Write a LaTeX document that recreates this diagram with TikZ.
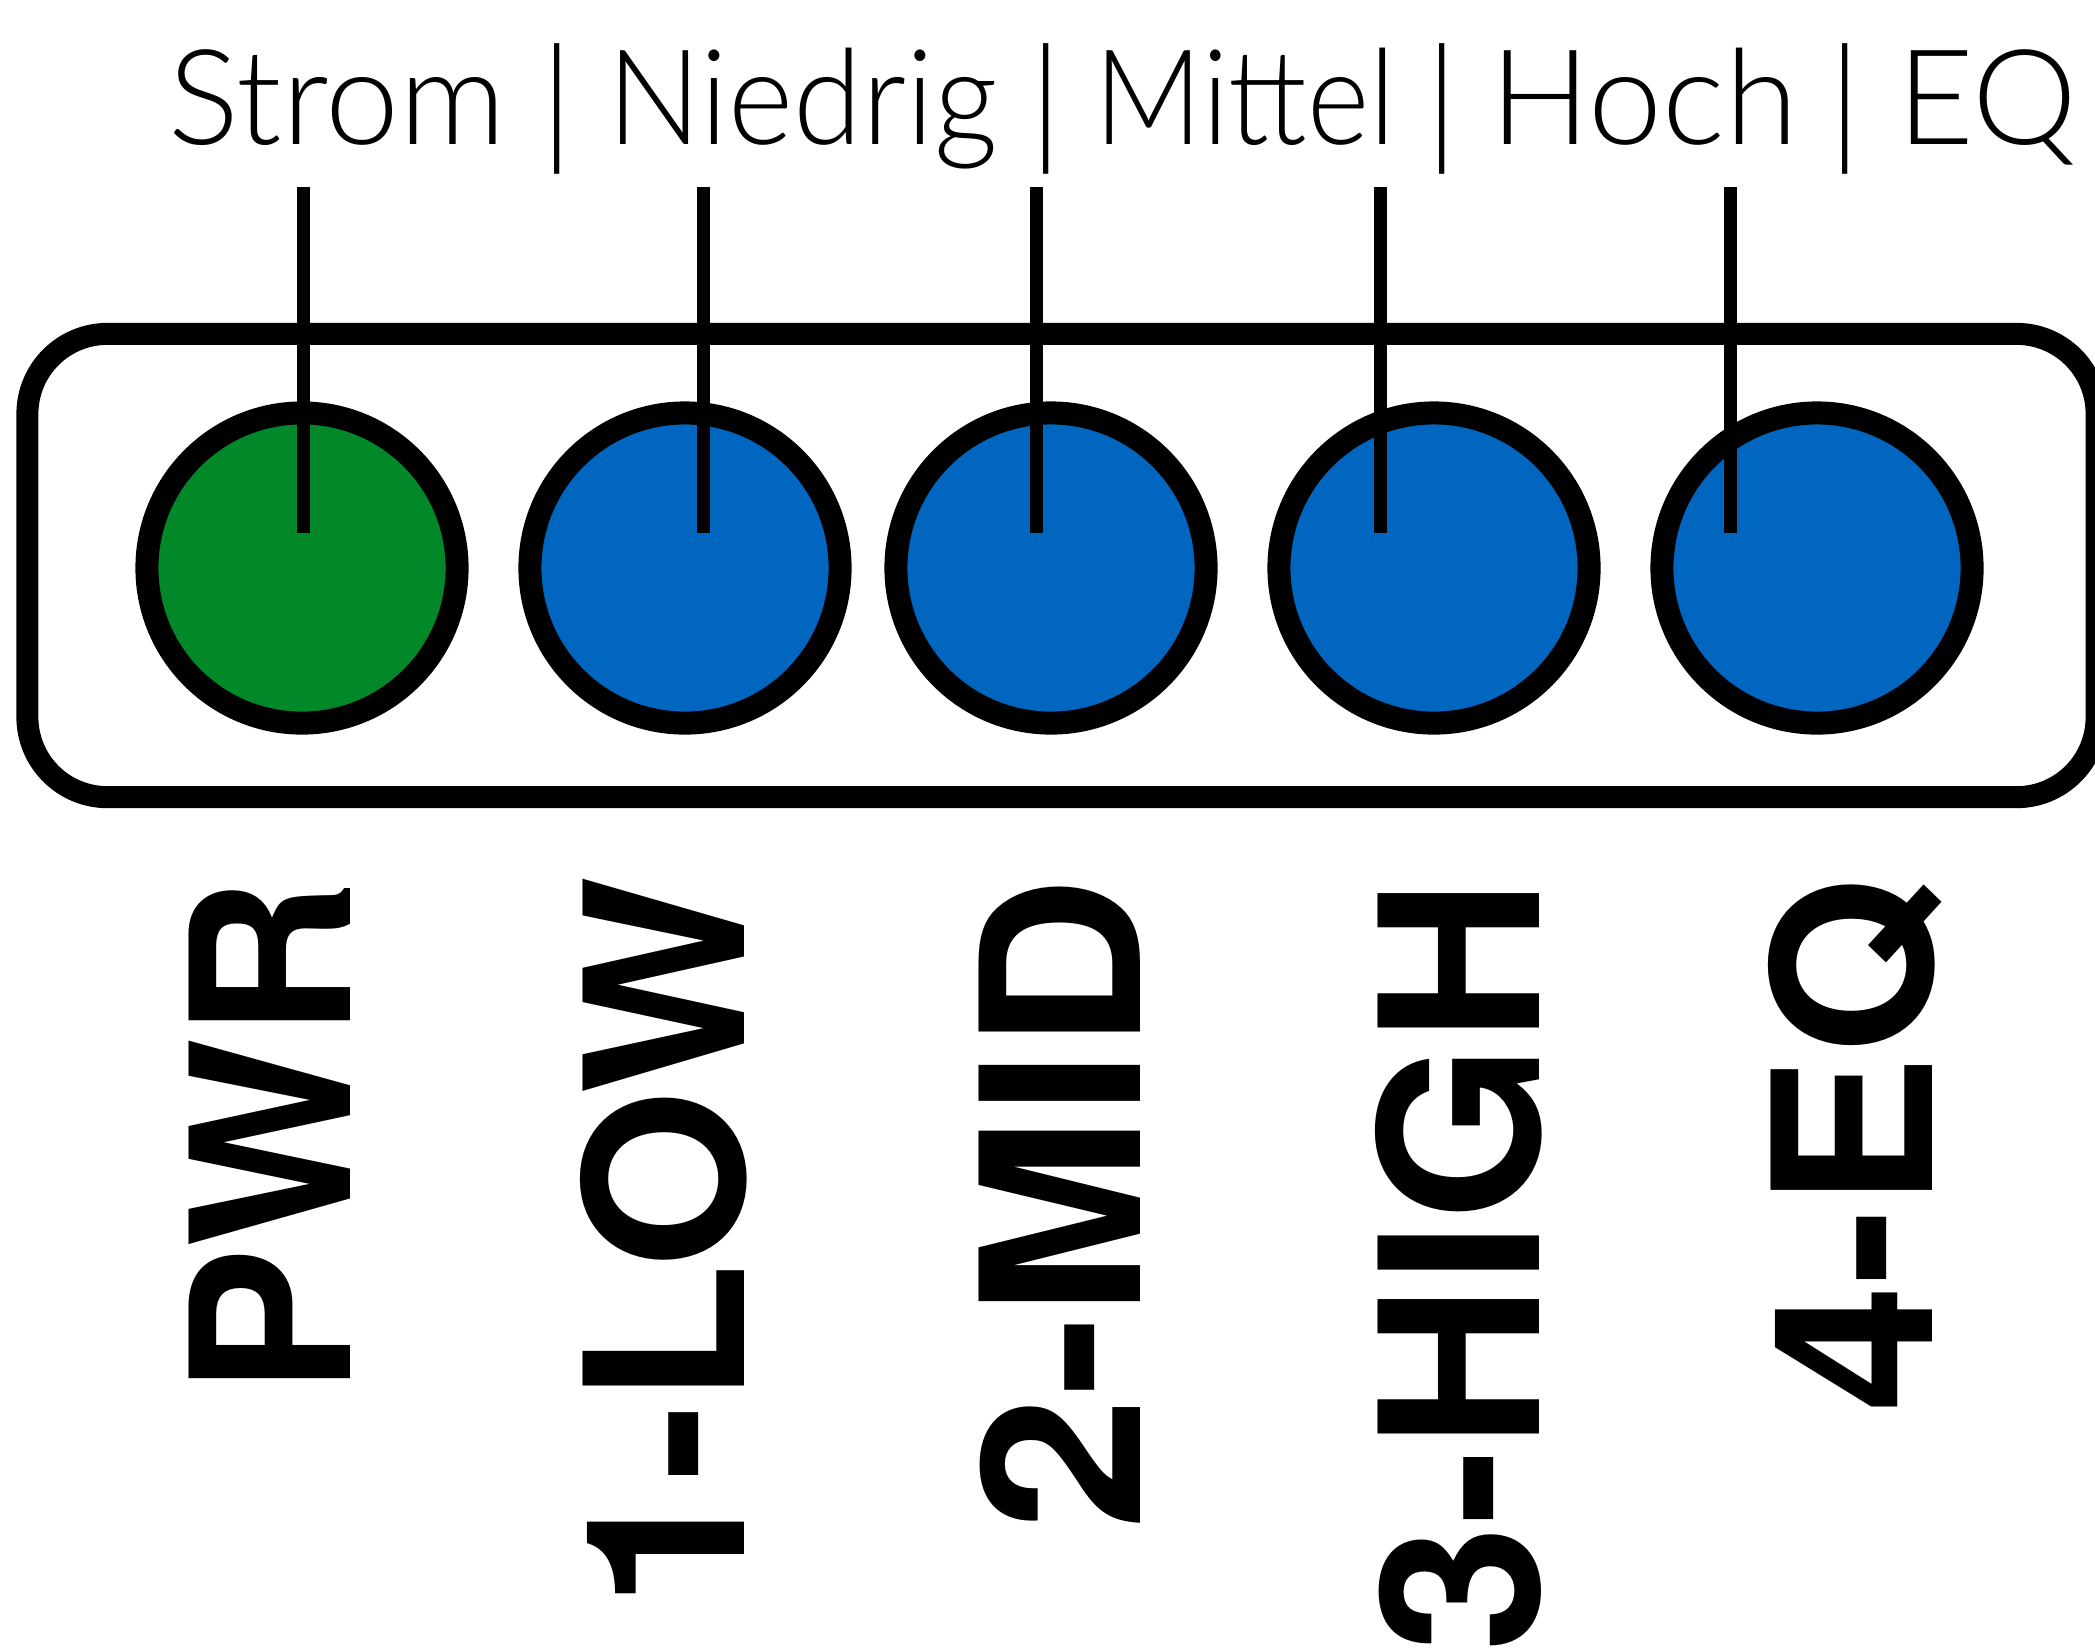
\documentclass[tikz,border=0pt]{standalone}
\usepackage{fontspec}
\IfFontExistsTF{Lato Light}{\newfontfamily\thinfont{Lato Light}\def\topsize{37.7}}{%
  \newfontfamily\thinfont{Liberation Sans}\def\topsize{37.5}}
\newfontfamily\labelfont{TeX Gyre Heros}
\definecolor{ledgreen}{RGB}{0,136,41}
\definecolor{ledblue}{RGB}{0,102,191}
\tikzset{
  panelbox/.style={draw=black, line width=0.22cm, rounded corners=0.8cm, inner sep=0pt,
    minimum width=20.68cm, minimum height=4.63cm},
  led/.style={circle, draw=black, line width=0.23cm, minimum size=3.1cm, inner sep=0pt},
  ledpin/.style={draw=black, line width=0.13cm, line cap=butt},
  topword/.style={anchor=base, inner sep=0pt, font=\thinfont\fontsize{\topsize}{40}\selectfont},
  sepbar/.style={anchor=base, inner sep=0pt, font=\thinfont\fontsize{39.7}{42}\selectfont},
  ledlabel/.style={rotate=90, anchor=base east, inner sep=0pt,
    font=\labelfont\bfseries\fontsize{63}{70}\selectfont}
}
\begin{document}
\begin{tikzpicture}[x=0.01cm, y=-0.01cm]
\useasboundingbox (0,0) rectangle (2095,1650);
\clip (0,0) rectangle (2095,1650);
% top legend
\node[topword] (t1) at (337.5,144) {Strom};
\node[sepbar]  (b1) at (557,149) {|};
\node[topword, xscale=0.94] (t2) at (802.5,144) {Niedrig};
\node[sepbar]  (b2) at (1046,149) {|};
\node[topword, xscale=0.9] (t3) at (1245,144) {Mittel};
\node[sepbar]  (b3) at (1442,149) {|};
\node[topword] (t4) at (1644,144) {Hoch};
\node[sepbar]  (b4) at (1845,149) {|};
\node[topword] (t5) at (1987,144) {EQ};
% panel
\node[panelbox] (panel) at (1062,565.5) {};
% LEDs
\node[led, fill=ledgreen] (pwr)  at (302,568) {};
\node[led, fill=ledblue]  (low)  at (685,568) {};
\node[led, fill=ledblue]  (mid)  at (1051,568) {};
\node[led, fill=ledblue]  (high) at (1434,568) {};
\node[led, fill=ledblue]  (eq)   at (1817,568) {};
% pins
\coordinate (p1a) at (303.5,187); \coordinate (p1b) at (303.5,533);
\coordinate (p2a) at (703.5,187); \coordinate (p2b) at (703.5,533);
\coordinate (p3a) at (1036.7,187); \coordinate (p3b) at (1036.7,533);
\coordinate (p4a) at (1380.7,187); \coordinate (p4b) at (1380.7,533);
\coordinate (p5a) at (1730,187); \coordinate (p5b) at (1730,533);
\draw[ledpin] (p1a) -- (p1b);
\draw[ledpin] (p2a) -- (p2b);
\draw[ledpin] (p3a) -- (p3b);
\draw[ledpin] (p4a) -- (p4b);
\draw[ledpin] (p5a) -- (p5b);
% labels
\node[ledlabel] (lpwr)  at (350,878)  {PWR};
\node[ledlabel, xscale=1.043] (llow)  at (744,876)  {1-LOW};
\node[ledlabel, xscale=1.084] (lmid)  at (1140,876) {2-MID};
\node[ledlabel, xscale=1.03] (lhigh) at (1539,878) {3-HIGH};
\node[ledlabel, xscale=1.034] (leq)   at (1932,877) {4-EQ};
\end{tikzpicture}
\end{document}
